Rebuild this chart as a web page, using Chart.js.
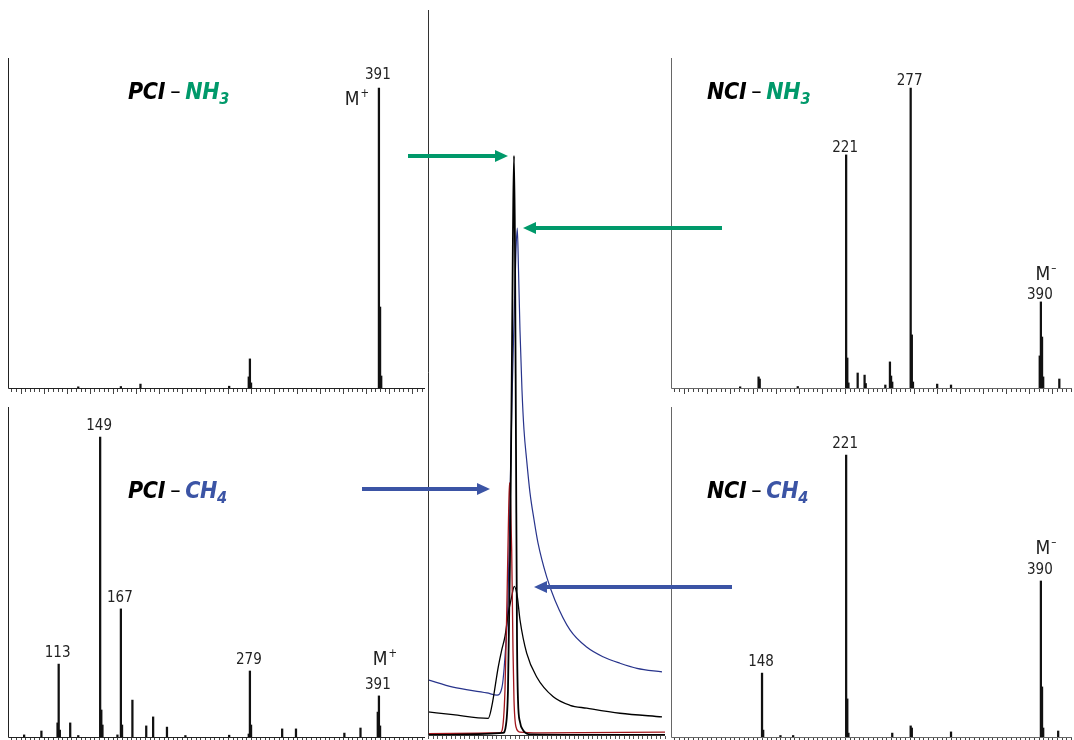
<!DOCTYPE html>
<html><head><meta charset="utf-8">
<script src="https://cdn.jsdelivr.net/npm/chart.js@4.4.1/dist/chart.umd.min.js"></script>
<style>
html,body{margin:0;padding:0;background:#fff}
body{width:1074px;height:740px;position:relative;overflow:hidden;font-family:"Liberation Sans Narrow","DejaVu Sans Condensed","Liberation Sans",sans-serif}
canvas{position:absolute}
.t{position:absolute;white-space:nowrap;line-height:1;color:#222}
.c{transform:translate(-50%,-50%)}
.lbl{font-size:15px;font-stretch:condensed}
.ttl{font-size:23px;font-weight:bold;font-style:italic;color:#000;letter-spacing:-0.3px}
.ttl .d{font-weight:normal;font-style:normal;margin:0 5px}
.ttl sub{font-size:70%;vertical-align:-0.3em}
.g{color:#00996a}
.b{color:#3b54a5}
.m{font-size:19px}
.m sup{font-size:60%;vertical-align:0.65em;margin-left:1px}
svg{position:absolute;left:0;top:0}
</style></head><body>
<canvas id="tl" width="432" height="350" style="left:0;top:50px"></canvas>
<canvas id="bl" width="432" height="350" style="left:0;top:399px"></canvas>
<canvas id="tr" width="411" height="350" style="left:663px;top:50px"></canvas>
<canvas id="br" width="411" height="350" style="left:663px;top:399px"></canvas>
<canvas id="cc" width="250" height="740" style="left:420px;top:0"></canvas>

<div class="t ttl" style="left:128px;top:80px">PCI<span class="d">–</span><span class="g">NH<sub>3</sub></span></div>
<div class="t ttl" style="left:128px;top:479px">PCI<span class="d">–</span><span class="b">CH<sub>4</sub></span></div>
<div class="t ttl" style="left:707px;top:80px">NCI<span class="d">–</span><span class="g">NH<sub>3</sub></span></div>
<div class="t ttl" style="left:707px;top:479px">NCI<span class="d">–</span><span class="b">CH<sub>4</sub></span></div>

<div id="labels"></div>

<svg width="1074" height="740">
  <g fill="#00996a" stroke="none">
    <rect x="408" y="154" width="90" height="4"/>
    <polygon points="495,150 508,156 495,162"/>
    <rect x="533" y="226" width="189" height="4"/>
    <polygon points="536,222 523,228 536,234"/>
  </g>
  <g fill="#3b54a5" stroke="none">
    <rect x="362" y="487" width="118" height="4"/>
    <polygon points="477,483 490,489 477,495"/>
    <rect x="544" y="585" width="188" height="4"/>
    <polygon points="547,581 534,587 547,593"/>
  </g>
</svg>

<script>
// ---------- DATA ----------
// PCI - NH3 mass spectrum (m/z, relative intensity)
const pciNh3Mz  = [130, 167, 184, 261, 278, 279, 280, 391, 392, 393];
const pciNh3Int = [0.4, 0.5, 1.3, 0.6, 3.7, 9.7, 1.7, 100, 27, 4];

// PCI - CH4 mass spectrum
const pciCh4Mz  = [83, 98, 112, 113, 114, 123, 130, 149, 150, 151, 164, 167, 168, 177, 189, 195, 207, 223, 261, 278, 279, 280, 307, 319, 361, 375, 390, 391, 392];
const pciCh4Int = [0.7, 2, 4.7, 24.3, 2.3, 4.7, 0.5, 100, 9, 4, 0.7, 42.7, 4, 12.3, 3.7, 6.7, 3.3, 0.5, 0.6, 1, 22, 4, 2.7, 2.7, 1.3, 3, 8.3, 13.7, 3.7];

// NCI - NH3 mass spectrum
const nciNh3Mz  = [129, 145, 146, 179, 221, 222, 223, 231, 237, 238, 255, 259, 260, 261, 277, 278, 279, 300, 312, 389, 390, 391, 392, 406];
const nciNh3Int = [0.4, 3.7, 3, 0.5, 77.7, 10, 1.7, 5, 4.3, 1.5, 1, 8.7, 4, 2, 100, 17.7, 2, 1.3, 1, 10.7, 28.7, 17, 3.7, 3];

// NCI - CH4 mass spectrum
const nciCh4Mz  = [148, 149, 164, 175, 221, 222, 223, 261, 277, 278, 312, 390, 391, 392, 405];
const nciCh4Int = [21.3, 2.3, 0.5, 0.5, 94, 12.7, 1.3, 1.3, 3.7, 3, 1.7, 52, 16.7, 3, 2];

// Chromatogram traces (retention time, intensity)
const tallBlackT   = [0, 16.45, 17.11, 17.55, 17.99, 18.43, 18.65, 18.87, 19.09, 19.31, 19.53, 19.75, 20.18, 20.84, 22.38, 52];
const tallBlackI   = [0, 0.3, 1.4, 6.2, 24.1, 53.1, 69.7, 79.9, 66.9, 39.3, 13.1, 4.8, 1.8, 0.7, 0.1, 0];
const blueT        = [0, 5.48, 12.94, 15.14, 16.24, 16.89, 17.55, 17.99, 18.43, 18.87, 19.31, 19.59, 19.86, 20.18, 20.62, 21.06, 21.65, 22.38, 23.26, 24.13, 26.04, 27.86, 31.15, 34.88, 38.39, 42.12, 45.85, 51.34];
const blueI        = [7.6, 6.6, 5.8, 5.5, 6.6, 10.8, 18.6, 32.4, 46.2, 57.2, 66.9, 69.9, 64.1, 55.9, 47.6, 42.1, 37.9, 33.4, 29.7, 26.5, 21.8, 18.6, 14.5, 12.1, 10.8, 9.9, 9.2, 8.7];
const smallBlackT  = [0, 5.48, 13.23, 13.98, 15.42, 16.17, 16.89, 17.62, 18.36, 18.93, 19.59, 20.18, 21.65, 23.85, 27.42, 31.15, 34.82, 42.12, 51.34];
const smallBlackI  = [3.2, 2.8, 2.3, 3.9, 9.4, 11.7, 13.6, 16.8, 19.1, 20.5, 19.1, 15.9, 11.3, 8.0, 5.3, 4.1, 3.7, 3.0, 2.5];
const redT         = [0, 15.80, 16.24, 16.89, 17.33, 17.66, 17.88, 18.10, 18.36, 18.65, 18.87, 19.31, 20.18, 24.57, 52];
const redI         = [0.2, 0.3, 0.6, 6.2, 18.6, 29.7, 34.8, 32.4, 25.5, 11.7, 4.8, 1.1, 0.4, 0.3, 0.4];

// Peak annotations: [text, m/z, intensity] per panel
const pciNh3Labels = [["391", 391, 100]];
const pciCh4Labels = [["149", 149, 100], ["167", 167, 42.7], ["113", 113, 24.3], ["279", 279, 22], ["391", 391, 13.7]];
const nciNh3Labels = [["277", 277, 100], ["221", 221, 77.7], ["390", 390, 28.7]];
const nciCh4Labels = [["221", 221, 94], ["148", 148, 21.3], ["390", 390, 52]];

// ---------- DRAWING ----------
const axesPlugin = {
  id: 'axesTicks',
  afterDraw(chart, args, o) {
    const {ctx, chartArea: a} = chart;
    const x = chart.scales.x;
    ctx.save();
    ctx.strokeStyle = o.color || '#333';
    ctx.lineWidth = 1;
    ctx.beginPath();
    ctx.moveTo(a.left + 0.5, a.top);
    ctx.lineTo(a.left + 0.5, a.bottom + 0.5);
    ctx.lineTo(a.right, a.bottom + 0.5);
    ctx.stroke();
    ctx.strokeStyle = o.tickColor || '#444';
    ctx.beginPath();
    const start = Math.ceil(x.min / o.minor) * o.minor;
    for (let v = start; v <= x.max + 1e-9; v += o.minor) {
      const px = Math.round(x.getPixelForValue(v)) + 0.5;
      const isMajor = o.major && Math.abs(Math.round(v) % o.major) < 1e-6;
      const len = isMajor ? o.majorLen : o.minorLen;
      ctx.moveTo(px, a.bottom + 1);
      ctx.lineTo(px, a.bottom + 1 + len);
    }
    ctx.stroke();
    ctx.restore();
  }
};

function spectrum(id, mz, inten, xmin, xmax, pad, axisColor) {
  const data = mz.map((m, i) => ({x: m, y: inten[i]}));
  return new Chart(document.getElementById(id), {
    type: 'bar',
    data: {datasets: [{data, backgroundColor: '#111', borderWidth: 0, barThickness: 1.6}]},
    options: {
      responsive: false, animation: false, devicePixelRatio: 1,
      layout: {padding: pad},
      plugins: {legend: {display: false}, tooltip: {enabled: false},
        axesTicks: {minor: 4, major: 20, minorLen: 3, majorLen: 5, color: axisColor, tickColor: '#444'}},
      scales: {
        x: {type: 'linear', min: xmin, max: xmax, offset: false, display: false},
        y: {min: 0, max: 110, display: false}
      }
    },
    plugins: [axesPlugin]
  });
}

const tl = spectrum('tl', pciNh3Mz, pciNh3Int, 69, 431, {left: 8, top: 8, right: 7, bottom: 12}, '#222');
const bl = spectrum('bl', pciCh4Mz, pciCh4Int, 69, 431, {left: 8, top: 8, right: 7, bottom: 12}, '#222');
const tr = spectrum('tr', nciNh3Mz, nciNh3Int, 69, 417, {left: 8, top: 8, right: 2, bottom: 12}, '#666');
const br = spectrum('br', nciCh4Mz, nciCh4Int, 69, 417, {left: 8, top: 8, right: 2, bottom: 12}, '#666');

function pts(t, v) { return t.map((x, i) => ({x, y: v[i]})); }
new Chart(document.getElementById('cc'), {
  type: 'line',
  data: {datasets: [
    {data: pts(tallBlackT, tallBlackI), borderColor: '#000', borderWidth: 1.8, order: 0},
    {data: pts(redT, redI), borderColor: '#a3161c', borderWidth: 1.3, order: 1},
    {data: pts(smallBlackT, smallBlackI), borderColor: '#000', borderWidth: 1.3, order: 2},
    {data: pts(blueT, blueI), borderColor: '#28348c', borderWidth: 1.2, order: 3}
  ]},
  options: {
    responsive: false, animation: false, devicePixelRatio: 1,
    layout: {padding: {left: 8, top: 10, right: 5, bottom: 5}},
    elements: {point: {radius: 0}, line: {cubicInterpolationMode: 'monotone', fill: false}},
    plugins: {legend: {display: false}, tooltip: {enabled: false},
      axesTicks: {minor: 1, major: 0, minorLen: 3, majorLen: 3, color: '#333', tickColor: '#555'}},
    scales: {
      x: {type: 'linear', min: 0, max: 52, display: false},
      y: {min: 0, max: 100, display: false}
    }
  },
  plugins: [axesPlugin]
});

// Peak labels positioned through each chart's scales
const labelsDiv = document.getElementById('labels');
function addLabels(chart, canvasId, list, numDy, mLabel, mSign, mDx, mDy) {
  const cv = document.getElementById(canvasId);
  const ox = parseFloat(cv.style.left), oy = parseFloat(cv.style.top);
  const xs = chart.scales.x, ys = chart.scales.y;
  list.forEach(([txt, m, v]) => {
    const px = ox + xs.getPixelForValue(m);
    const py = oy + ys.getPixelForValue(v);
    const d = document.createElement('div');
    d.className = 't c lbl';
    d.textContent = txt;
    d.style.left = (px - 1) + 'px';
    d.style.top = (py + numDy) + 'px';
    labelsDiv.appendChild(d);
    if (mLabel && m === mLabel) {
      const md = document.createElement('div');
      md.className = 't c m';
      md.innerHTML = 'M<sup>' + mSign + '</sup>';
      md.style.left = (px + mDx) + 'px';
      md.style.top = (py + mDy) + 'px';
      labelsDiv.appendChild(md);
    }
  });
}
addLabels(tl, 'tl', pciNh3Labels, -14, 391, '+', -22, 10);
addLabels(bl, 'bl', pciCh4Labels, -12, 391, '+', 6, -38);
addLabels(tr, 'tr', nciNh3Labels, -8, 390, '–', 5, -29);
addLabels(br, 'br', nciCh4Labels, -12, 390, '–', 5, -34);
</script>
</body></html>
